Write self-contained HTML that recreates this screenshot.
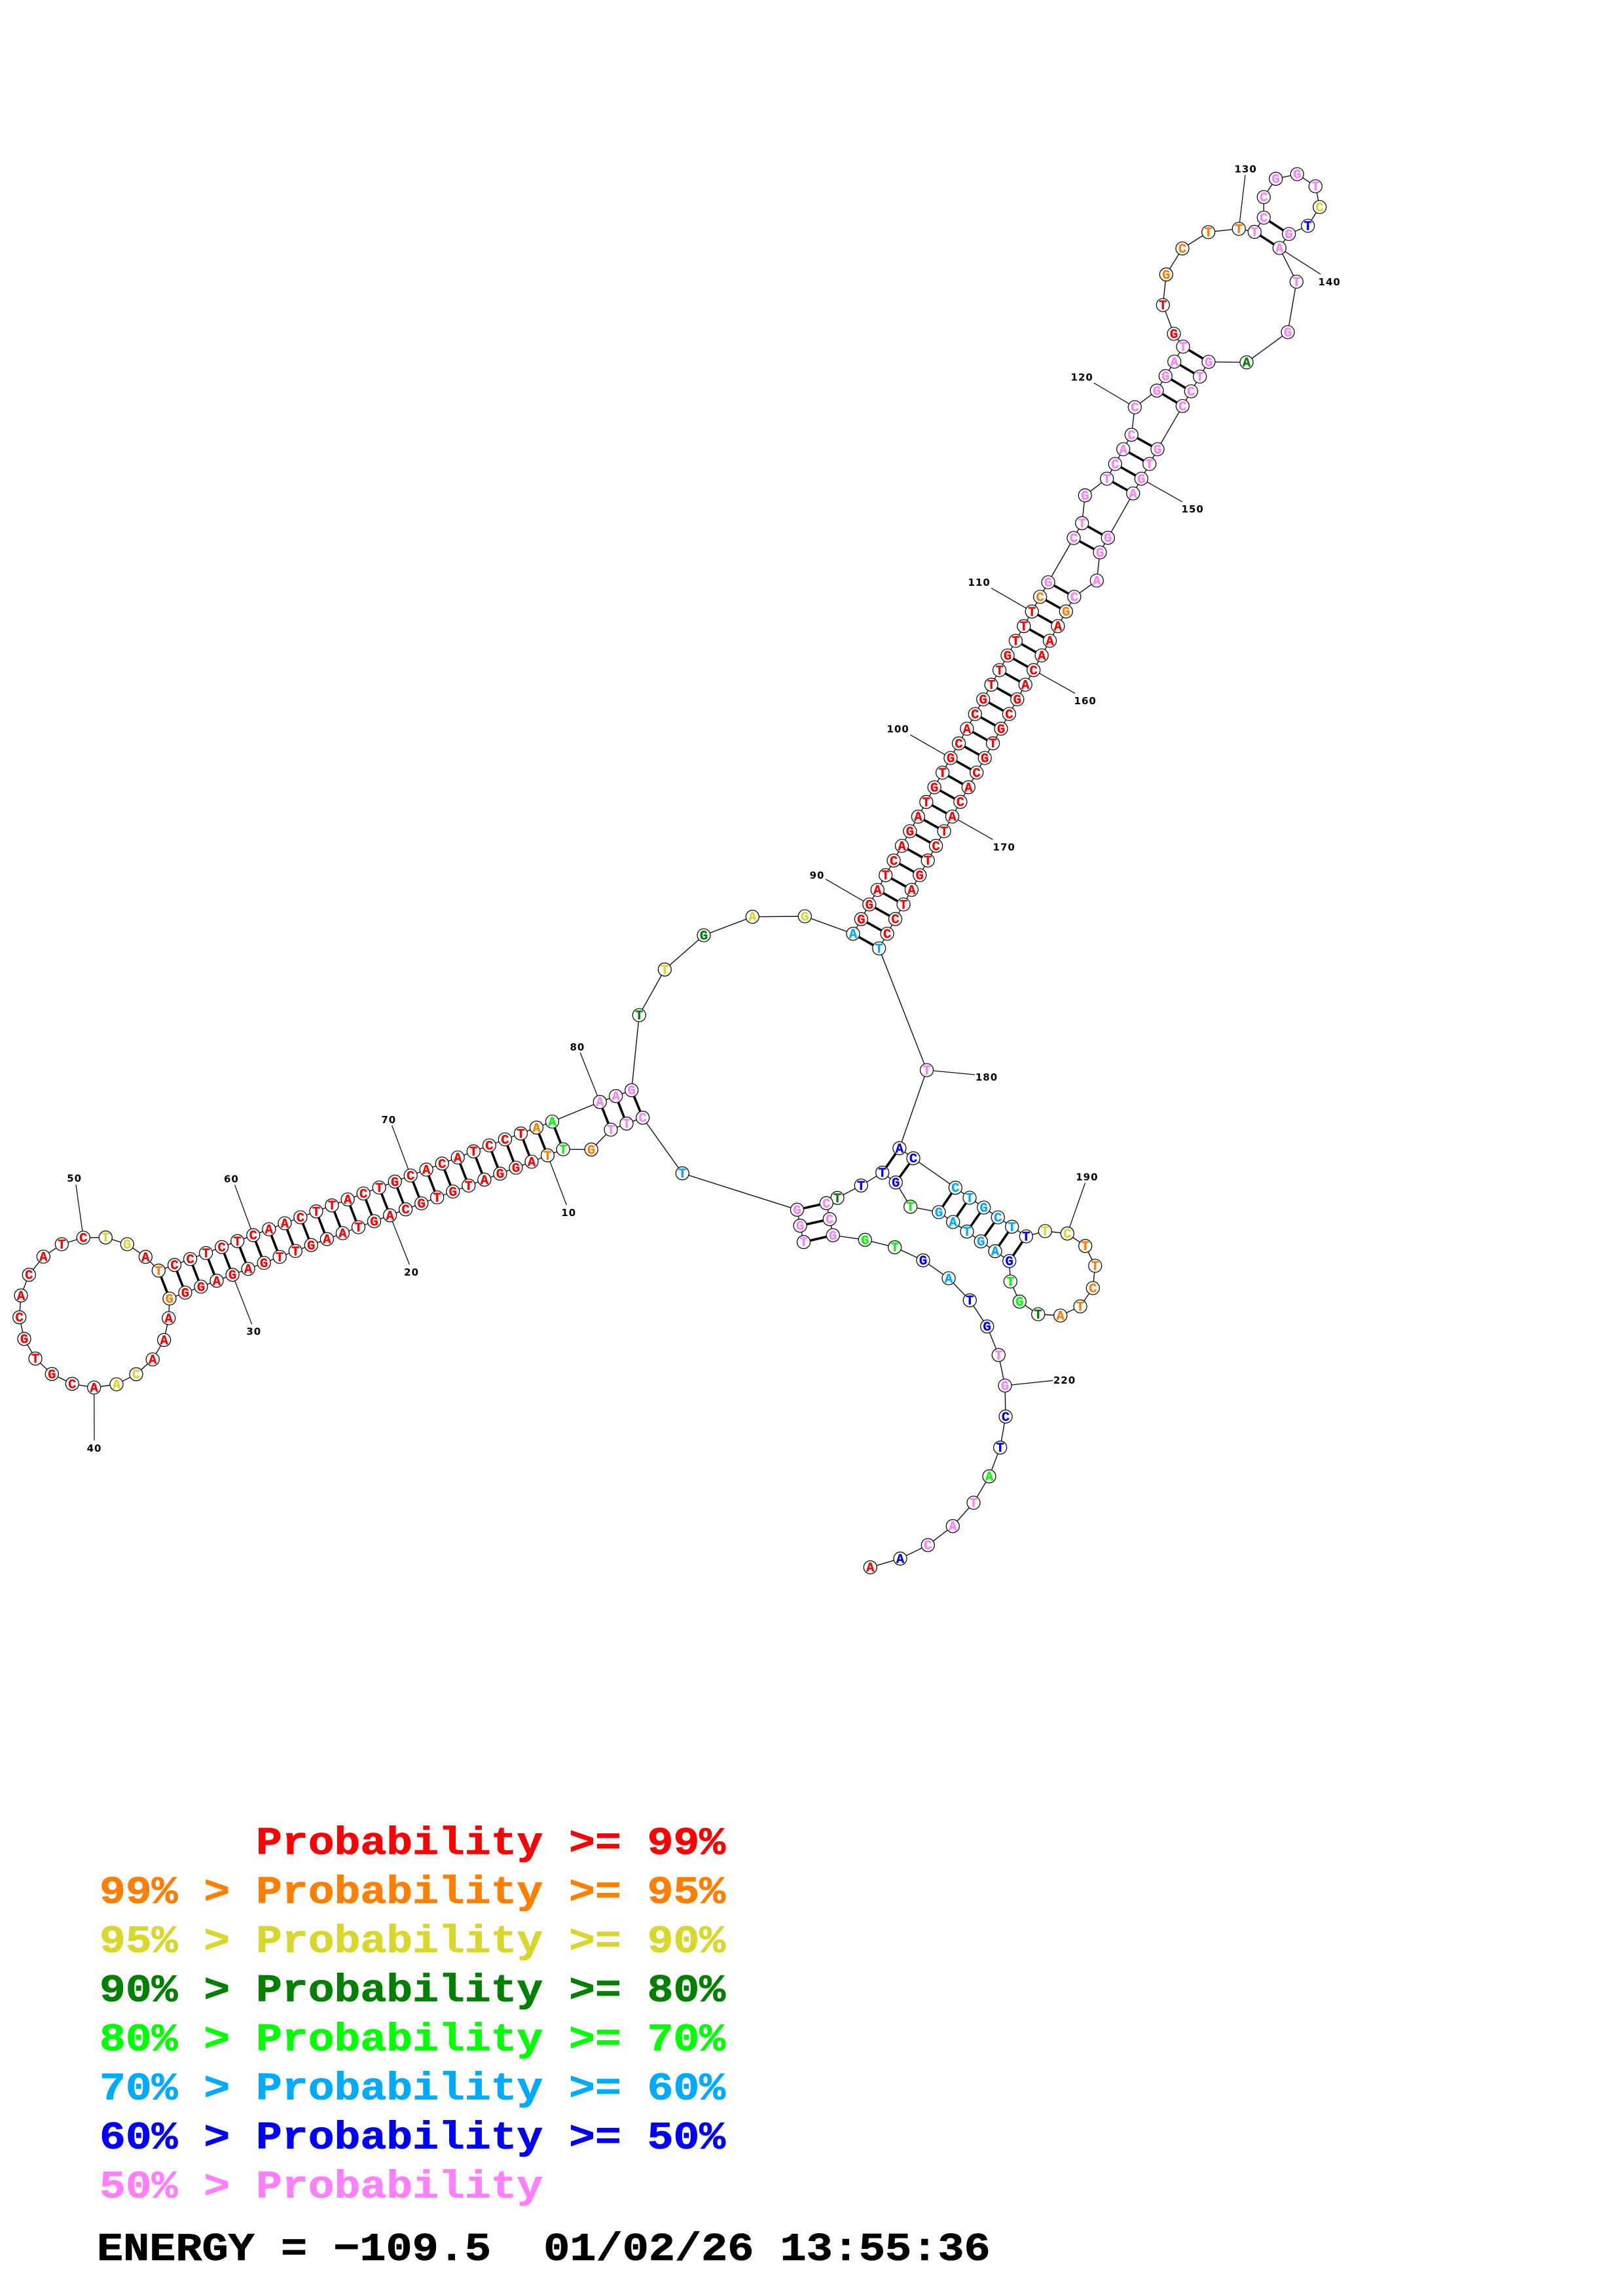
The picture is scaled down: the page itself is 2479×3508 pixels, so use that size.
<!DOCTYPE html>
<html><head><meta charset="utf-8"><title>RNA secondary structure</title>
<style>
html,body{margin:0;padding:0;background:#fff}
svg{display:block}
.n text{font-family:"Liberation Mono",monospace;font-weight:700;font-size:20.5px;text-anchor:middle;stroke-width:.35}
.l text{font-family:"DejaVu Sans",sans-serif;font-weight:700;font-size:15px;text-anchor:middle;letter-spacing:1px;fill:#000}
.k text{font-family:"Liberation Mono",monospace;font-weight:700;font-size:66.4px;white-space:pre;stroke-width:.9}
circle{fill:#fff;stroke:#111;stroke-width:1.3}
.r{fill:#f00;stroke:#f00}.o{fill:#ff8000;stroke:#ff8000}.y{fill:#d8d82c;stroke:#d8d82c}.d{fill:#008000;stroke:#008000}.g{fill:#0f0;stroke:#0f0}.c{fill:#0af;stroke:#0af}.b{fill:#00f;stroke:#00f}.p{fill:#ff80ff;stroke:#ff80ff}
</style></head><body>
<svg xmlns="http://www.w3.org/2000/svg" width="2479" height="3508" viewBox="0 0 2479 3508">
<rect width="2479" height="3508" fill="#fff"/>
<polyline fill="none" stroke="#111" stroke-width="1.4" points="1227.5,1897.7 1222.1,1872.7 1217.5,1848.3 1042.3,1792.7 981.7,1707.7 957,1716.7 933,1726 903.2,1756.3 860.1,1756 836.4,1765.3 812,1775 788,1784.1 763.9,1793.2 739.9,1802.3 715.8,1811.4 691.8,1820.5 667.7,1829.5 643.7,1838.6 619.6,1847.7 595.6,1856.8 571.5,1865.9 547.5,1875 523.4,1884.1 499.4,1893.2 475.3,1902.3 451.3,1911.4 427.2,1920.4 403.2,1929.5 379.1,1938.6 355.1,1947.7 331,1956.8 307,1965.9 282.9,1975 258.9,1984 257.7,2014 250.6,2047.3 233.2,2077 208,2099.7 178,2115 143.7,2120 110.3,2114.3 79.3,2099.3 54,2075.7 37,2045.7 29.7,2012.7 32,1979.3 44.3,1947.7 66.3,1920 94.3,1901 127.3,1891 161.3,1890.7 194.3,1901 222.3,1920.3 242.3,1941.3 266.5,1932.7 290.6,1923.6 314.6,1914.5 338.7,1905.4 362.7,1896.3 386.8,1887.2 410.8,1878.1 434.9,1869 458.9,1859.9 483,1850.8 507,1841.7 531.1,1832.6 555.1,1823.5 579.2,1814.4 603.2,1805.3 627.2,1796 651.2,1787 675.3,1777.8 699.2,1768.5 723.3,1759.2 747.4,1750 771.4,1740.9 795.5,1731.8 819.5,1722.8 843.5,1713.6 916.3,1683.7 940.7,1674.7 964.7,1665.7 976.3,1551 1015.3,1481.3 1075,1429 1149.3,1400.7 1229.3,1400 1303,1426.7 1315.4,1404.3 1327.8,1381.9 1340.3,1359.6 1352.7,1337.2 1365.1,1314.8 1377.5,1292.4 1389.9,1270 1402.4,1247.7 1414.8,1225.3 1427.2,1202.9 1439.6,1180.5 1452,1158.1 1464.5,1135.8 1476.9,1113.4 1489.3,1091 1501.7,1068.6 1514.1,1046.2 1526.6,1023.9 1539,1001.5 1551.4,979.1 1563.8,956.7 1576.2,934.3 1588.6,911.9 1601.1,889.6 1640,822 1652.7,799.3 1657.3,756.8 1690.7,731.4 1703.3,708.9 1715.7,686.4 1728.3,664.3 1733.3,622.1 1767,596.8 1780.3,574.6 1793.7,552.5 1807,529.6 1793,510 1776.3,466.1 1781.3,419.3 1806,379.6 1845.7,354.6 1892.3,349.6 1916.3,354.3 1930.3,332.5 1930.3,301.1 1948.7,273.2 1981.3,266.1 2009.3,284.6 2015.7,316.4 1997.7,345 1968.7,357.5 1954.3,378.9 1980.3,430.4 1967,507.5 1904,553.6 1846,552.9 1832.7,575.4 1819.3,597.9 1806.3,620.4 1768,686.4 1755.7,708.9 1743.3,731.4 1730.7,753.9 1692.3,821.7 1680,844 1675.3,887 1640.8,911.9 1628.3,934.2 1615.9,956.6 1603.5,979 1591.1,1001.4 1578.7,1023.8 1566.2,1046.1 1553.8,1068.5 1541.4,1090.9 1529,1113.3 1516.6,1135.7 1504.2,1158.1 1491.7,1180.4 1479.3,1202.8 1466.9,1225.2 1454.5,1247.6 1442.1,1270 1429.6,1292.3 1417.2,1314.7 1404.8,1337.1 1392.4,1359.5 1380,1381.9 1367.5,1404.2 1355.1,1426.6 1342.7,1449 1415.5,1635 1373.9,1754.3 1395,1769.7 1459.3,1814.7 1481,1830 1502.7,1845 1524.3,1860 1545.7,1874.3 1567.3,1889 1596.3,1881 1630.3,1884.7 1657.7,1903.7 1672.7,1934 1669.3,1968 1650,1996 1619.7,2010 1585.7,2008 1557.3,1988.7 1543.3,1958 1541.7,1926.7 1520,1911.7 1498.3,1896.7 1477,1881.7 1455.7,1867 1434,1852 1390.7,1843.7 1368.3,1806.7 1347.7,1791.7 1315.3,1811.3 1279,1830.3 1262.3,1838.3 1267.3,1862.7 1272.3,1887.3 1321.3,1894.3 1366.7,1905.7 1410,1925.7 1449,1953 1481.3,1986.7 1507.7,2026.7 1525.3,2070.3 1535,2117 1536,2164.3 1527.7,2211.7 1511,2255.7 1487,2296 1455.3,2331.7 1417.3,2360.7 1375,2381.3 1329.3,2394.7"/>
<path fill="none" stroke="#111" stroke-width="1.3" d="M836.4 1765.3L865.3 1841M595.6 1856.8L625.5 1932.3M355.1 1947.7L384.7 2023.3M143.7 2120L144 2200.7M127.3 1891L116 1810M386.8 1887.2L358.6 1810.3M627.2 1796L598.6 1719.3M916.3 1683.7L886.2 1608.3M1327.8 1381.9L1261.3 1343.3M1452 1158.1L1390.3 1122.7M1576.2 934.3L1514.3 898.7M1733.3 622.1L1670.7 585M1892.3 349.6L1902 267.5M1954.3 378.9L2017 418.9M1743.3 731.4L1805.7 766.7M1578.7 1023.8L1642 1059.3M1454.5 1247.6L1516.3 1282.7M1415.5 1635L1489 1642M1630.3 1884.7L1657.5 1807.3M1535 2117L1608.3 2109.3"/>
<path fill="none" stroke="#000" stroke-width="3.6" d="M1217.5 1848.3L1262.3 1838.3M1222.1 1872.7L1267.3 1862.7M1227.5 1897.7L1272.3 1887.3M981.7 1707.7L964.7 1665.7M957 1716.7L940.7 1674.7M933 1726L916.3 1683.7M860.1 1756L843.5 1713.6M836.4 1765.3L819.5 1722.8M812 1775L795.5 1731.8M788 1784.1L771.4 1740.9M763.9 1793.2L747.4 1750M739.9 1802.3L723.3 1759.2M715.8 1811.4L699.2 1768.5M691.8 1820.5L675.3 1777.8M667.7 1829.5L651.2 1787M643.7 1838.6L627.2 1796M619.6 1847.7L603.2 1805.3M595.6 1856.8L579.2 1814.4M571.5 1865.9L555.1 1823.5M547.5 1875L531.1 1832.6M523.4 1884.1L507 1841.7M499.4 1893.2L483 1850.8M475.3 1902.3L458.9 1859.9M451.3 1911.4L434.9 1869M427.2 1920.4L410.8 1878.1M403.2 1929.5L386.8 1887.2M379.1 1938.6L362.7 1896.3M355.1 1947.7L338.7 1905.4M331 1956.8L314.6 1914.5M307 1965.9L290.6 1923.6M282.9 1975L266.5 1932.7M258.9 1984L242.3 1941.3M1303 1426.7L1342.7 1449M1315.4 1404.3L1355.1 1426.6M1327.8 1381.9L1367.5 1404.2M1340.3 1359.6L1380 1381.9M1352.7 1337.2L1392.4 1359.5M1365.1 1314.8L1404.8 1337.1M1377.5 1292.4L1417.2 1314.7M1389.9 1270L1429.6 1292.3M1402.4 1247.7L1442.1 1270M1414.8 1225.3L1454.5 1247.6M1427.2 1202.9L1466.9 1225.2M1439.6 1180.5L1479.3 1202.8M1452 1158.1L1491.7 1180.4M1464.5 1135.8L1504.2 1158.1M1476.9 1113.4L1516.6 1135.7M1489.3 1091L1529 1113.3M1501.7 1068.6L1541.4 1090.9M1514.1 1046.2L1553.8 1068.5M1526.6 1023.9L1566.2 1046.1M1539 1001.5L1578.7 1023.8M1551.4 979.1L1591.1 1001.4M1563.8 956.7L1603.5 979M1576.2 934.3L1615.9 956.6M1588.6 911.9L1628.3 934.2M1601.1 889.6L1640.8 911.9M1640 822L1680 844M1652.7 799.3L1692.3 821.7M1690.7 731.4L1730.7 753.9M1703.3 708.9L1743.3 731.4M1715.7 686.4L1755.7 708.9M1728.3 664.3L1768 686.4M1767 596.8L1806.3 620.4M1780.3 574.6L1819.3 597.9M1793.7 552.5L1832.7 575.4M1807 529.6L1846 552.9M1916.3 354.3L1954.3 378.9M1930.3 332.5L1968.7 357.5M1373.9 1754.3L1347.7 1791.7M1395 1769.7L1368.3 1806.7M1459.3 1814.7L1434 1852M1481 1830L1455.7 1867M1502.7 1845L1477 1881.7M1524.3 1860L1498.3 1896.7M1545.7 1874.3L1520 1911.7M1567.3 1889L1541.7 1926.7"/>
<g>
<circle r="10" cx="1227.5" cy="1897.7"/><circle r="10" cx="1222.1" cy="1872.7"/><circle r="10" cx="1217.5" cy="1848.3"/><circle r="10" cx="1042.3" cy="1792.7"/><circle r="10" cx="981.7" cy="1707.7"/><circle r="10" cx="957" cy="1716.7"/><circle r="10" cx="933" cy="1726"/><circle r="10" cx="903.2" cy="1756.3"/><circle r="10" cx="860.1" cy="1756"/><circle r="10" cx="836.4" cy="1765.3"/>
<circle r="10" cx="812" cy="1775"/><circle r="10" cx="788" cy="1784.1"/><circle r="10" cx="763.9" cy="1793.2"/><circle r="10" cx="739.9" cy="1802.3"/><circle r="10" cx="715.8" cy="1811.4"/><circle r="10" cx="691.8" cy="1820.5"/><circle r="10" cx="667.7" cy="1829.5"/><circle r="10" cx="643.7" cy="1838.6"/><circle r="10" cx="619.6" cy="1847.7"/><circle r="10" cx="595.6" cy="1856.8"/>
<circle r="10" cx="571.5" cy="1865.9"/><circle r="10" cx="547.5" cy="1875"/><circle r="10" cx="523.4" cy="1884.1"/><circle r="10" cx="499.4" cy="1893.2"/><circle r="10" cx="475.3" cy="1902.3"/><circle r="10" cx="451.3" cy="1911.4"/><circle r="10" cx="427.2" cy="1920.4"/><circle r="10" cx="403.2" cy="1929.5"/><circle r="10" cx="379.1" cy="1938.6"/><circle r="10" cx="355.1" cy="1947.7"/>
<circle r="10" cx="331" cy="1956.8"/><circle r="10" cx="307" cy="1965.9"/><circle r="10" cx="282.9" cy="1975"/><circle r="10" cx="258.9" cy="1984"/><circle r="10" cx="257.7" cy="2014"/><circle r="10" cx="250.6" cy="2047.3"/><circle r="10" cx="233.2" cy="2077"/><circle r="10" cx="208" cy="2099.7"/><circle r="10" cx="178" cy="2115"/><circle r="10" cx="143.7" cy="2120"/>
<circle r="10" cx="110.3" cy="2114.3"/><circle r="10" cx="79.3" cy="2099.3"/><circle r="10" cx="54" cy="2075.7"/><circle r="10" cx="37" cy="2045.7"/><circle r="10" cx="29.7" cy="2012.7"/><circle r="10" cx="32" cy="1979.3"/><circle r="10" cx="44.3" cy="1947.7"/><circle r="10" cx="66.3" cy="1920"/><circle r="10" cx="94.3" cy="1901"/><circle r="10" cx="127.3" cy="1891"/>
<circle r="10" cx="161.3" cy="1890.7"/><circle r="10" cx="194.3" cy="1901"/><circle r="10" cx="222.3" cy="1920.3"/><circle r="10" cx="242.3" cy="1941.3"/><circle r="10" cx="266.5" cy="1932.7"/><circle r="10" cx="290.6" cy="1923.6"/><circle r="10" cx="314.6" cy="1914.5"/><circle r="10" cx="338.7" cy="1905.4"/><circle r="10" cx="362.7" cy="1896.3"/><circle r="10" cx="386.8" cy="1887.2"/>
<circle r="10" cx="410.8" cy="1878.1"/><circle r="10" cx="434.9" cy="1869"/><circle r="10" cx="458.9" cy="1859.9"/><circle r="10" cx="483" cy="1850.8"/><circle r="10" cx="507" cy="1841.7"/><circle r="10" cx="531.1" cy="1832.6"/><circle r="10" cx="555.1" cy="1823.5"/><circle r="10" cx="579.2" cy="1814.4"/><circle r="10" cx="603.2" cy="1805.3"/><circle r="10" cx="627.2" cy="1796"/>
<circle r="10" cx="651.2" cy="1787"/><circle r="10" cx="675.3" cy="1777.8"/><circle r="10" cx="699.2" cy="1768.5"/><circle r="10" cx="723.3" cy="1759.2"/><circle r="10" cx="747.4" cy="1750"/><circle r="10" cx="771.4" cy="1740.9"/><circle r="10" cx="795.5" cy="1731.8"/><circle r="10" cx="819.5" cy="1722.8"/><circle r="10" cx="843.5" cy="1713.6"/><circle r="10" cx="916.3" cy="1683.7"/>
<circle r="10" cx="940.7" cy="1674.7"/><circle r="10" cx="964.7" cy="1665.7"/><circle r="10" cx="976.3" cy="1551"/><circle r="10" cx="1015.3" cy="1481.3"/><circle r="10" cx="1075" cy="1429"/><circle r="10" cx="1149.3" cy="1400.7"/><circle r="10" cx="1229.3" cy="1400"/><circle r="10" cx="1303" cy="1426.7"/><circle r="10" cx="1315.4" cy="1404.3"/><circle r="10" cx="1327.8" cy="1381.9"/>
<circle r="10" cx="1340.3" cy="1359.6"/><circle r="10" cx="1352.7" cy="1337.2"/><circle r="10" cx="1365.1" cy="1314.8"/><circle r="10" cx="1377.5" cy="1292.4"/><circle r="10" cx="1389.9" cy="1270"/><circle r="10" cx="1402.4" cy="1247.7"/><circle r="10" cx="1414.8" cy="1225.3"/><circle r="10" cx="1427.2" cy="1202.9"/><circle r="10" cx="1439.6" cy="1180.5"/><circle r="10" cx="1452" cy="1158.1"/>
<circle r="10" cx="1464.5" cy="1135.8"/><circle r="10" cx="1476.9" cy="1113.4"/><circle r="10" cx="1489.3" cy="1091"/><circle r="10" cx="1501.7" cy="1068.6"/><circle r="10" cx="1514.1" cy="1046.2"/><circle r="10" cx="1526.6" cy="1023.9"/><circle r="10" cx="1539" cy="1001.5"/><circle r="10" cx="1551.4" cy="979.1"/><circle r="10" cx="1563.8" cy="956.7"/><circle r="10" cx="1576.2" cy="934.3"/>
<circle r="10" cx="1588.6" cy="911.9"/><circle r="10" cx="1601.1" cy="889.6"/><circle r="10" cx="1640" cy="822"/><circle r="10" cx="1652.7" cy="799.3"/><circle r="10" cx="1657.3" cy="756.8"/><circle r="10" cx="1690.7" cy="731.4"/><circle r="10" cx="1703.3" cy="708.9"/><circle r="10" cx="1715.7" cy="686.4"/><circle r="10" cx="1728.3" cy="664.3"/><circle r="10" cx="1733.3" cy="622.1"/>
<circle r="10" cx="1767" cy="596.8"/><circle r="10" cx="1780.3" cy="574.6"/><circle r="10" cx="1793.7" cy="552.5"/><circle r="10" cx="1807" cy="529.6"/><circle r="10" cx="1793" cy="510"/><circle r="10" cx="1776.3" cy="466.1"/><circle r="10" cx="1781.3" cy="419.3"/><circle r="10" cx="1806" cy="379.6"/><circle r="10" cx="1845.7" cy="354.6"/><circle r="10" cx="1892.3" cy="349.6"/>
<circle r="10" cx="1916.3" cy="354.3"/><circle r="10" cx="1930.3" cy="332.5"/><circle r="10" cx="1930.3" cy="301.1"/><circle r="10" cx="1948.7" cy="273.2"/><circle r="10" cx="1981.3" cy="266.1"/><circle r="10" cx="2009.3" cy="284.6"/><circle r="10" cx="2015.7" cy="316.4"/><circle r="10" cx="1997.7" cy="345"/><circle r="10" cx="1968.7" cy="357.5"/><circle r="10" cx="1954.3" cy="378.9"/>
<circle r="10" cx="1980.3" cy="430.4"/><circle r="10" cx="1967" cy="507.5"/><circle r="10" cx="1904" cy="553.6"/><circle r="10" cx="1846" cy="552.9"/><circle r="10" cx="1832.7" cy="575.4"/><circle r="10" cx="1819.3" cy="597.9"/><circle r="10" cx="1806.3" cy="620.4"/><circle r="10" cx="1768" cy="686.4"/><circle r="10" cx="1755.7" cy="708.9"/><circle r="10" cx="1743.3" cy="731.4"/>
<circle r="10" cx="1730.7" cy="753.9"/><circle r="10" cx="1692.3" cy="821.7"/><circle r="10" cx="1680" cy="844"/><circle r="10" cx="1675.3" cy="887"/><circle r="10" cx="1640.8" cy="911.9"/><circle r="10" cx="1628.3" cy="934.2"/><circle r="10" cx="1615.9" cy="956.6"/><circle r="10" cx="1603.5" cy="979"/><circle r="10" cx="1591.1" cy="1001.4"/><circle r="10" cx="1578.7" cy="1023.8"/>
<circle r="10" cx="1566.2" cy="1046.1"/><circle r="10" cx="1553.8" cy="1068.5"/><circle r="10" cx="1541.4" cy="1090.9"/><circle r="10" cx="1529" cy="1113.3"/><circle r="10" cx="1516.6" cy="1135.7"/><circle r="10" cx="1504.2" cy="1158.1"/><circle r="10" cx="1491.7" cy="1180.4"/><circle r="10" cx="1479.3" cy="1202.8"/><circle r="10" cx="1466.9" cy="1225.2"/><circle r="10" cx="1454.5" cy="1247.6"/>
<circle r="10" cx="1442.1" cy="1270"/><circle r="10" cx="1429.6" cy="1292.3"/><circle r="10" cx="1417.2" cy="1314.7"/><circle r="10" cx="1404.8" cy="1337.1"/><circle r="10" cx="1392.4" cy="1359.5"/><circle r="10" cx="1380" cy="1381.9"/><circle r="10" cx="1367.5" cy="1404.2"/><circle r="10" cx="1355.1" cy="1426.6"/><circle r="10" cx="1342.7" cy="1449"/><circle r="10" cx="1415.5" cy="1635"/>
<circle r="10" cx="1373.9" cy="1754.3"/><circle r="10" cx="1395" cy="1769.7"/><circle r="10" cx="1459.3" cy="1814.7"/><circle r="10" cx="1481" cy="1830"/><circle r="10" cx="1502.7" cy="1845"/><circle r="10" cx="1524.3" cy="1860"/><circle r="10" cx="1545.7" cy="1874.3"/><circle r="10" cx="1567.3" cy="1889"/><circle r="10" cx="1596.3" cy="1881"/><circle r="10" cx="1630.3" cy="1884.7"/>
<circle r="10" cx="1657.7" cy="1903.7"/><circle r="10" cx="1672.7" cy="1934"/><circle r="10" cx="1669.3" cy="1968"/><circle r="10" cx="1650" cy="1996"/><circle r="10" cx="1619.7" cy="2010"/><circle r="10" cx="1585.7" cy="2008"/><circle r="10" cx="1557.3" cy="1988.7"/><circle r="10" cx="1543.3" cy="1958"/><circle r="10" cx="1541.7" cy="1926.7"/><circle r="10" cx="1520" cy="1911.7"/>
<circle r="10" cx="1498.3" cy="1896.7"/><circle r="10" cx="1477" cy="1881.7"/><circle r="10" cx="1455.7" cy="1867"/><circle r="10" cx="1434" cy="1852"/><circle r="10" cx="1390.7" cy="1843.7"/><circle r="10" cx="1368.3" cy="1806.7"/><circle r="10" cx="1347.7" cy="1791.7"/><circle r="10" cx="1315.3" cy="1811.3"/><circle r="10" cx="1279" cy="1830.3"/><circle r="10" cx="1262.3" cy="1838.3"/>
<circle r="10" cx="1267.3" cy="1862.7"/><circle r="10" cx="1272.3" cy="1887.3"/><circle r="10" cx="1321.3" cy="1894.3"/><circle r="10" cx="1366.7" cy="1905.7"/><circle r="10" cx="1410" cy="1925.7"/><circle r="10" cx="1449" cy="1953"/><circle r="10" cx="1481.3" cy="1986.7"/><circle r="10" cx="1507.7" cy="2026.7"/><circle r="10" cx="1525.3" cy="2070.3"/><circle r="10" cx="1535" cy="2117"/>
<circle r="10" cx="1536" cy="2164.3"/><circle r="10" cx="1527.7" cy="2211.7"/><circle r="10" cx="1511" cy="2255.7"/><circle r="10" cx="1487" cy="2296"/><circle r="10" cx="1455.3" cy="2331.7"/><circle r="10" cx="1417.3" cy="2360.7"/><circle r="10" cx="1375" cy="2381.3"/><circle r="10" cx="1329.3" cy="2394.7"/>
</g>
<g class="n" transform="translate(0,6.5)">
<g class="p"><text x="1227.5" y="1897.7">T</text><text x="1222.1" y="1872.7">G</text><text x="1217.5" y="1848.3">G</text><text x="981.7" y="1707.7">C</text><text x="957" y="1716.7">T</text><text x="933" y="1726">T</text></g>
<g class="c"><text x="1042.3" y="1792.7">T</text></g>
<g class="o"><text x="903.2" y="1756.3">G</text><text x="836.4" y="1765.3">T</text><text x="258.9" y="1984">G</text><text x="242.3" y="1941.3">T</text><text x="819.5" y="1722.8">A</text></g>
<g class="g"><text x="860.1" y="1756">T</text><text x="843.5" y="1713.6">A</text></g>
<g class="r"><text x="812" y="1775">A</text><text x="788" y="1784.1">G</text><text x="763.9" y="1793.2">G</text><text x="739.9" y="1802.3">A</text><text x="715.8" y="1811.4">T</text><text x="691.8" y="1820.5">G</text><text x="667.7" y="1829.5">T</text><text x="643.7" y="1838.6">G</text><text x="619.6" y="1847.7">C</text><text x="595.6" y="1856.8">A</text><text x="571.5" y="1865.9">G</text><text x="547.5" y="1875">T</text><text x="523.4" y="1884.1">A</text><text x="499.4" y="1893.2">A</text><text x="475.3" y="1902.3">G</text><text x="451.3" y="1911.4">T</text><text x="427.2" y="1920.4">T</text><text x="403.2" y="1929.5">G</text><text x="379.1" y="1938.6">A</text><text x="355.1" y="1947.7">G</text><text x="331" y="1956.8">A</text><text x="307" y="1965.9">G</text><text x="282.9" y="1975">G</text>
<text x="257.7" y="2014">A</text><text x="250.6" y="2047.3">A</text><text x="233.2" y="2077">A</text><text x="143.7" y="2120">A</text><text x="110.3" y="2114.3">C</text><text x="79.3" y="2099.3">G</text><text x="54" y="2075.7">T</text><text x="37" y="2045.7">G</text><text x="29.7" y="2012.7">C</text><text x="32" y="1979.3">A</text><text x="44.3" y="1947.7">C</text><text x="66.3" y="1920">A</text><text x="94.3" y="1901">T</text><text x="127.3" y="1891">C</text><text x="222.3" y="1920.3">A</text>
<text x="266.5" y="1932.7">C</text><text x="290.6" y="1923.6">C</text><text x="314.6" y="1914.5">T</text><text x="338.7" y="1905.4">C</text><text x="362.7" y="1896.3">T</text><text x="386.8" y="1887.2">C</text><text x="410.8" y="1878.1">A</text><text x="434.9" y="1869">A</text><text x="458.9" y="1859.9">C</text><text x="483" y="1850.8">T</text><text x="507" y="1841.7">T</text><text x="531.1" y="1832.6">A</text><text x="555.1" y="1823.5">C</text><text x="579.2" y="1814.4">T</text><text x="603.2" y="1805.3">G</text><text x="627.2" y="1796">C</text><text x="651.2" y="1787">A</text><text x="675.3" y="1777.8">C</text><text x="699.2" y="1768.5">A</text><text x="723.3" y="1759.2">T</text><text x="747.4" y="1750">C</text><text x="771.4" y="1740.9">C</text><text x="795.5" y="1731.8">T</text></g>
<g class="y"><text x="208" y="2099.7">C</text><text x="178" y="2115">A</text><text x="161.3" y="1890.7">T</text><text x="194.3" y="1901">G</text><text x="1015.3" y="1481.3">T</text><text x="1149.3" y="1400.7">A</text><text x="1229.3" y="1400">G</text><text x="2015.7" y="316.4">C</text><text x="1596.3" y="1881">T</text><text x="1630.3" y="1884.7">C</text></g>
<g class="p"><text x="916.3" y="1683.7">A</text><text x="940.7" y="1674.7">A</text><text x="964.7" y="1665.7">G</text></g>
<g class="d"><text x="976.3" y="1551">T</text><text x="1075" y="1429">G</text><text x="1904" y="553.6">A</text><text x="1585.7" y="2008">T</text><text x="1279" y="1830.3">T</text></g>
<g class="c"><text x="1303" y="1426.7">A</text><text x="1342.7" y="1449">T</text></g>
<g class="r"><text x="1315.4" y="1404.3">G</text><text x="1327.8" y="1381.9">G</text><text x="1340.3" y="1359.6">A</text><text x="1352.7" y="1337.2">T</text><text x="1365.1" y="1314.8">C</text><text x="1377.5" y="1292.4">A</text><text x="1389.9" y="1270">G</text><text x="1402.4" y="1247.7">A</text><text x="1414.8" y="1225.3">T</text><text x="1427.2" y="1202.9">G</text><text x="1439.6" y="1180.5">T</text><text x="1452" y="1158.1">G</text><text x="1464.5" y="1135.8">C</text><text x="1476.9" y="1113.4">A</text><text x="1489.3" y="1091">C</text><text x="1501.7" y="1068.6">G</text><text x="1514.1" y="1046.2">T</text><text x="1526.6" y="1023.9">T</text><text x="1539" y="1001.5">G</text><text x="1551.4" y="979.1">T</text><text x="1563.8" y="956.7">T</text><text x="1576.2" y="934.3">T</text>
<text x="1591.1" y="1001.4">A</text><text x="1603.5" y="979">A</text><text x="1615.9" y="956.6">A</text><text x="1578.7" y="1023.8">C</text><text x="1566.2" y="1046.1">A</text><text x="1553.8" y="1068.5">G</text><text x="1541.4" y="1090.9">C</text><text x="1529" y="1113.3">G</text><text x="1516.6" y="1135.7">T</text><text x="1504.2" y="1158.1">G</text><text x="1491.7" y="1180.4">C</text><text x="1479.3" y="1202.8">A</text><text x="1466.9" y="1225.2">C</text><text x="1454.5" y="1247.6">A</text><text x="1442.1" y="1270">T</text><text x="1429.6" y="1292.3">C</text><text x="1417.2" y="1314.7">T</text><text x="1404.8" y="1337.1">G</text><text x="1392.4" y="1359.5">A</text><text x="1380" y="1381.9">T</text><text x="1367.5" y="1404.2">C</text><text x="1355.1" y="1426.6">C</text>
<text x="1793" y="510">G</text><text x="1776.3" y="466.1">T</text><text x="1329.3" y="2394.7">A</text></g>
<g class="o"><text x="1588.6" y="911.9">C</text><text x="1628.3" y="934.2">G</text><text x="1781.3" y="419.3">G</text><text x="1806" y="379.6">C</text><text x="1845.7" y="354.6">T</text><text x="1892.3" y="349.6">T</text><text x="1657.7" y="1903.7">T</text><text x="1672.7" y="1934">T</text><text x="1669.3" y="1968">C</text><text x="1650" y="1996">T</text><text x="1619.7" y="2010">A</text></g>
<g class="p"><text x="1601.1" y="889.6">G</text><text x="1640" y="822">C</text><text x="1652.7" y="799.3">T</text><text x="1657.3" y="756.8">G</text><text x="1690.7" y="731.4">T</text><text x="1703.3" y="708.9">C</text><text x="1715.7" y="686.4">A</text><text x="1728.3" y="664.3">C</text><text x="1733.3" y="622.1">C</text><text x="1767" y="596.8">G</text><text x="1780.3" y="574.6">G</text><text x="1793.7" y="552.5">A</text><text x="1807" y="529.6">T</text>
<text x="1916.3" y="354.3">T</text><text x="1930.3" y="332.5">C</text><text x="1930.3" y="301.1">C</text><text x="1948.7" y="273.2">G</text><text x="1981.3" y="266.1">G</text><text x="2009.3" y="284.6">T</text><text x="1968.7" y="357.5">G</text><text x="1954.3" y="378.9">A</text><text x="1980.3" y="430.4">T</text><text x="1967" y="507.5">G</text>
<text x="1846" y="552.9">G</text><text x="1832.7" y="575.4">T</text><text x="1819.3" y="597.9">C</text><text x="1806.3" y="620.4">C</text><text x="1768" y="686.4">G</text><text x="1755.7" y="708.9">T</text><text x="1743.3" y="731.4">G</text><text x="1730.7" y="753.9">A</text><text x="1692.3" y="821.7">G</text><text x="1680" y="844">G</text><text x="1675.3" y="887">A</text><text x="1640.8" y="911.9">C</text>
<text x="1415.5" y="1635">T</text><text x="1262.3" y="1838.3">C</text><text x="1267.3" y="1862.7">C</text><text x="1272.3" y="1887.3">G</text><text x="1525.3" y="2070.3">T</text><text x="1535" y="2117">G</text><text x="1487" y="2296">T</text><text x="1455.3" y="2331.7">A</text><text x="1417.3" y="2360.7">C</text></g>
<g class="b"><text x="1997.7" y="345">T</text><text x="1373.9" y="1754.3">A</text><text x="1395" y="1769.7">C</text><text x="1567.3" y="1889">T</text><text x="1541.7" y="1926.7">G</text><text x="1368.3" y="1806.7">G</text><text x="1347.7" y="1791.7">T</text><text x="1315.3" y="1811.3">T</text><text x="1410" y="1925.7">G</text><text x="1481.3" y="1986.7">T</text><text x="1507.7" y="2026.7">G</text><text x="1536" y="2164.3">C</text><text x="1527.7" y="2211.7">T</text><text x="1375" y="2381.3">A</text></g>
<g class="c"><text x="1459.3" y="1814.7">C</text><text x="1481" y="1830">T</text><text x="1502.7" y="1845">G</text><text x="1524.3" y="1860">C</text><text x="1545.7" y="1874.3">T</text><text x="1520" y="1911.7">A</text><text x="1498.3" y="1896.7">G</text><text x="1477" y="1881.7">T</text><text x="1455.7" y="1867">A</text><text x="1434" y="1852">G</text><text x="1449" y="1953">A</text></g>
<g class="g"><text x="1557.3" y="1988.7">G</text><text x="1543.3" y="1958">T</text><text x="1390.7" y="1843.7">T</text><text x="1321.3" y="1894.3">G</text><text x="1366.7" y="1905.7">T</text><text x="1511" y="2255.7">A</text></g>
</g>
<g class="l">
<text x="868.8" y="1857.8">10</text><text x="628.6" y="1948.8">20</text><text x="387.8" y="2039.5">30</text><text x="144" y="2217.8">40</text><text x="113.7" y="1805.5">50</text><text x="353.4" y="1806.5">60</text><text x="593.8" y="1715.8">70</text><text x="881.9" y="1604.8">80</text><text x="1248" y="1342.5">90</text><text x="1371.7" y="1118.8">100</text><text x="1495.7" y="894.8">110</text><text x="1652.7" y="581.5">120</text><text x="1902.7" y="263.7">130</text><text x="2030.7" y="435.9">140</text><text x="1821.7" y="782.8">150</text><text x="1657.7" y="1075.8">160</text><text x="1533.7" y="1299.5">170</text><text x="1507" y="1651">180</text><text x="1660.4" y="1803.5">190</text><text x="1626" y="2113.8">220</text>
</g>
<g class="k">
<text class="r" transform="translate(152,2832.7) scale(1,.9)">      Probability &gt;= 99%</text>
<text class="o" transform="translate(152,2907.7) scale(1,.9)">99% &gt; Probability &gt;= 95%</text>
<text class="y" transform="translate(152,2982.7) scale(1,.9)">95% &gt; Probability &gt;= 90%</text>
<text class="d" transform="translate(152,3057.7) scale(1,.9)">90% &gt; Probability &gt;= 80%</text>
<text class="g" transform="translate(152,3132.7) scale(1,.9)">80% &gt; Probability &gt;= 70%</text>
<text class="c" transform="translate(152,3207.7) scale(1,.9)">70% &gt; Probability &gt;= 60%</text>
<text class="b" transform="translate(152,3282.7) scale(1,.9)">60% &gt; Probability &gt;= 50%</text>
<text class="p" transform="translate(152,3357.7) scale(1,.9)">50% &gt; Probability</text>
<text fill="#000" stroke="#000" style="font-size:66.9px" transform="translate(148,3453) scale(1,.9)">ENERGY = −109.5  01/02/26 13:55:36</text>
</g>
</svg>
</body></html>
